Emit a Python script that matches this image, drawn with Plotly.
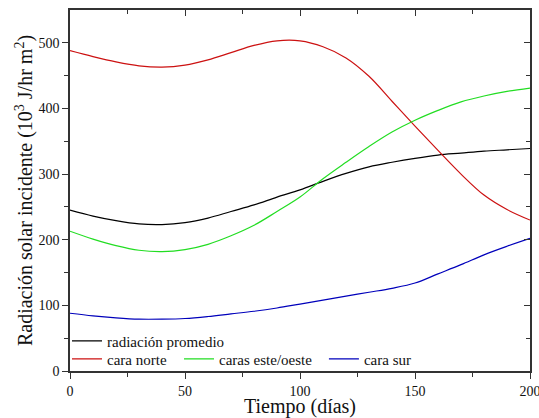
import plotly.graph_objects as go

days = [0, 10, 20, 30, 40, 50, 60, 70, 80, 90, 100, 110, 120, 130, 140, 150, 160, 170, 180, 190, 200]
promedio = [245, 236, 229, 224, 223, 226, 233, 243, 253, 265, 276, 289, 301, 311, 318, 324, 329, 332, 335, 337, 339]
norte = [488, 479, 471, 465, 463, 466, 474, 485, 496, 503, 503, 494, 477, 449, 411, 373, 336, 300, 268, 246, 230]
este_oeste = [213, 201, 191, 184, 182, 185, 193, 206, 222, 243, 265, 293, 318, 342, 364, 382, 397, 410, 419, 426, 431]
sur = [88, 84, 81, 79, 79, 80, 83, 87, 91, 96, 102, 108, 114, 120, 126, 134, 148, 162, 177, 190, 202]

names = ["radiación promedio", "cara norte", "caras este/oeste", "cara sur"]
series = [promedio, norte, este_oeste, sur]
colors = ["#000000", "#cc1111", "#22dd22", "#0000bb"]
legends = ["legend", "legend2", "legend3", "legend4"]

FONT = "Liberation Serif, Times New Roman, serif"

fig = go.Figure()
for n, s, c, lg in zip(names, series, colors, legends):
    fig.add_trace(go.Scatter(x=days, y=s, mode="lines", name=n, legend=lg,
                             line=dict(color=c, width=1.2, shape="spline"),
                             hoverinfo="skip"))
# helper traces for mirrored (top/right) axes
fig.add_trace(go.Scatter(x=[None], y=[None], xaxis="x2", yaxis="y",
                         showlegend=False, hoverinfo="skip"))
fig.add_trace(go.Scatter(x=[None], y=[None], xaxis="x", yaxis="y2",
                         showlegend=False, hoverinfo="skip"))

axcol = "#333333"
common_leg = dict(bgcolor="rgba(0,0,0,0)", font=dict(family=FONT, size=15, color="#111"),
                  xanchor="left", yanchor="middle", tracegroupgap=0, itemwidth=30)

fig.update_layout(
    width=539, height=418,
    margin=dict(l=70, r=9, t=10, b=47),
    paper_bgcolor="white", plot_bgcolor="white",
    font=dict(family=FONT, color="#111"),
    xaxis=dict(range=[0, 200], tickvals=[0, 50, 100, 150, 200], ticks="outside", ticklen=6,
               tickwidth=1.3, tickcolor=axcol, showline=True, linecolor=axcol, linewidth=1.6,
               showgrid=False, zeroline=False, tickfont=dict(family=FONT, size=14),
               automargin=False, ticklabeloverflow="allow",
               minor=dict(tickvals=[25, 75, 125, 175], ticks="outside", ticklen=4, tickcolor=axcol),
               title=dict(text="Tiempo (días)", font=dict(family=FONT, size=20), standoff=4)),
    yaxis=dict(range=[0, 550], tickvals=[0, 100, 200, 300, 400, 500], ticks="outside", ticklen=6,
               tickwidth=1.3, tickcolor=axcol, showline=True, linecolor=axcol, linewidth=1.6,
               showgrid=False, zeroline=False, tickfont=dict(family=FONT, size=14),
               automargin=False, ticklabeloverflow="allow",
               minor=dict(tickvals=[50, 150, 250, 350, 450], ticks="outside", ticklen=4, tickcolor=axcol),
               title=dict(text="Radiación solar incidente (10<sup>3</sup> J/hr m<sup>2</sup>)",
                          font=dict(family=FONT, size=20), standoff=0)),
    xaxis2=dict(range=[0, 200], overlaying="x", side="top", anchor="y",
                tickvals=[0, 50, 100, 150, 200], ticks="inside", ticklen=6, tickwidth=1.3,
                tickcolor=axcol, showticklabels=False, showline=True, linecolor=axcol,
                linewidth=1.6, showgrid=False, zeroline=False, automargin=False,
                minor=dict(tickvals=[25, 75, 125, 175], ticks="inside", ticklen=4, tickcolor=axcol)),
    yaxis2=dict(range=[0, 550], overlaying="y", side="right", anchor="x",
                tickvals=[0, 100, 200, 300, 400, 500], ticks="inside", ticklen=6, tickwidth=1.3,
                tickcolor=axcol, showticklabels=False, showline=True, linecolor=axcol,
                linewidth=1.6, showgrid=False, zeroline=False, automargin=False,
                minor=dict(tickvals=[50, 150, 250, 350, 450], ticks="inside", ticklen=4, tickcolor=axcol)),
    legend=dict(x=-0.0065, y=0.083, **common_leg),
    legend2=dict(x=-0.0065, y=0.033, **common_leg),
    legend3=dict(x=0.237, y=0.033, **common_leg),
    legend4=dict(x=0.552, y=0.033, **common_leg),
)

fig.write_html("out.html", config={"displayModeBar": False},
               post_script="document.body.style.margin='0';")
